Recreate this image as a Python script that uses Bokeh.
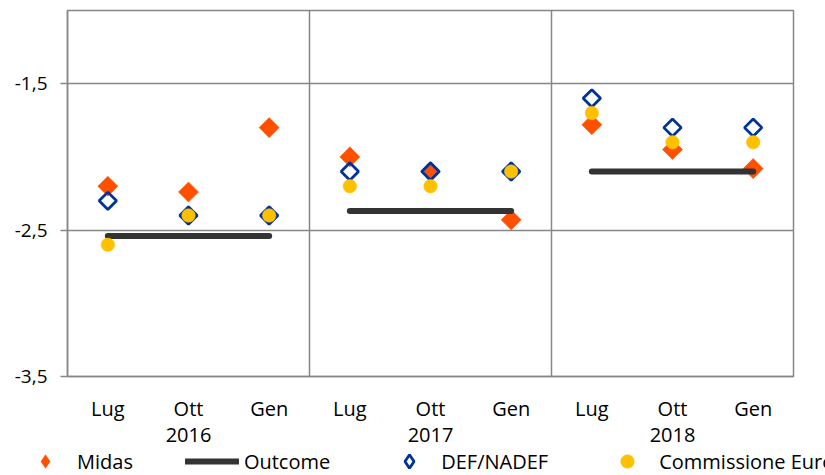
from bokeh.plotting import figure
from bokeh.layouts import column
from bokeh.models import FactorRange, Range1d, FixedTicker, Span, Legend, LegendItem, ColumnDataSource
from bokeh.embed import file_html
from bokeh.resources import INLINE

# ---- data ----
years = ["2016", "2017", "2018"]
months = ["Lug", "Ott", "Gen"]
midas = [-2.2, -2.24, -1.8, -2.0, -2.1, -2.43, -1.78, -1.95, -2.08]
def_nadef = [-2.3, -2.4, -2.4, -2.1, -2.1, -2.1, -1.6, -1.8, -1.8]
commissione = [-2.6, -2.4, -2.4, -2.2, -2.2, -2.1, -1.7, -1.9, -1.9]
outcome = [-2.54, -2.37, -2.1]
y_ticks = [-3.5, -2.5, -1.5]
y_tick_labels = ["-3,5", "-2,5", "-1,5"]
y_limits = (-3.5, -1.0)
series_names = ["Midas", "Outcome", "DEF/NADEF", "Commissione Europea"]

FONT = "Open Sans"
GRID = "#868686"
C_MIDAS = "#FF5000"
C_OUT = "#333333"
C_DEF = "#003399"
C_COM = "#FFC000"

factors = [(y, m) for y in years for m in months]
group_bounds = [len(months) * i for i in range(1, len(years))]

x_range = FactorRange(*factors, range_padding=0, group_padding=0,
                      factor_padding=0, subgroup_padding=0)

p = figure(width=825, height=447, x_range=x_range, y_range=Range1d(*y_limits),
           output_backend="svg", toolbar_location=None,
           min_border_left=67, min_border_top=10, min_border_right=32,
           min_border_bottom=71)
p.frame_align = False

p.background_fill_color = "white"
p.border_fill_color = "white"
p.outline_line_color = GRID
p.outline_line_width = 1.5

# grid
p.xgrid.grid_line_color = None
p.ygrid.ticker = FixedTicker(ticks=y_ticks)
p.ygrid.grid_line_color = GRID
p.ygrid.grid_line_width = 1.5
for b in group_bounds:
    p.add_layout(Span(location=b, dimension="height", line_color=GRID, line_width=1.5))

# y axis
p.yaxis.ticker = FixedTicker(ticks=y_ticks)
p.yaxis.major_label_overrides = {t: l for t, l in zip(y_ticks, y_tick_labels)}
p.yaxis.major_tick_out = 7
p.yaxis.major_tick_in = 0
p.yaxis.minor_tick_line_color = None
p.yaxis.major_tick_line_color = GRID
p.yaxis.major_tick_line_width = 1.5
p.yaxis.axis_line_color = GRID
p.yaxis.axis_line_width = 1.5
p.yaxis.major_label_standoff = 13
p.yaxis.major_label_text_font = FONT
p.yaxis.major_label_text_font_size = "19px"
p.yaxis.major_label_text_color = "black"

# x axis
p.xaxis.major_tick_line_color = None
p.xaxis.major_tick_out = 15
p.xaxis.major_tick_in = 0
p.xaxis.minor_tick_line_color = None
p.xaxis.axis_line_color = GRID
p.xaxis.axis_line_width = 1.5
p.xaxis.major_label_standoff = 3
p.xaxis.major_label_text_font = FONT
p.xaxis.major_label_text_font_size = "20px"
p.xaxis.major_label_text_color = "black"
p.xaxis.group_text_font = FONT
p.xaxis.group_text_font_size = "20px"
p.xaxis.group_text_font_style = "normal"
p.xaxis.group_text_color = "black"
p.xaxis.separator_line_color = None

# series styles
midas_style = dict(fill_color=C_MIDAS, line_color=C_MIDAS, line_width=0.5)
out_style = dict(line_color=C_OUT, line_width=6, line_cap="round")
def_style = dict(fill_color=None, line_color=C_DEF, line_width=2.8)
com_style = dict(marker="circle", size=13.5, fill_color=C_COM, line_color=C_COM,
                 line_width=0.5)
rot = dict(marker="square", angle=45, angle_units="deg")

p.scatter(x=factors, y=midas, size=14.2, **rot, **midas_style)
seg_src = ColumnDataSource(dict(x0=[(y, months[0]) for y in years],
                                x1=[(y, months[-1]) for y in years],
                                y=outcome))
p.segment(x0="x0", y0="y", x1="x1", y1="y", source=seg_src, **out_style)
p.scatter(x=factors, y=def_nadef, size=12.3, **rot, **def_style)
p.scatter(x=factors, y=commissione, **com_style)

# ---- legend strip (separate figure below) ----
# proxy renderers carry the same series data; the strip's ranges (0..1) keep
# them out of view, so only their legend glyphs are drawn.
lf = figure(width=825, height=28, x_range=(0, 1), y_range=(0, 1),
            output_backend="svg", toolbar_location=None,
            min_border=0, min_border_left=0, min_border_right=0,
            min_border_top=0, min_border_bottom=0,
            x_axis_location=None, y_axis_location=None)
lf.frame_align = False
lf.outline_line_color = None
lf.grid.grid_line_color = None
lf.background_fill_color = "white"
lf.border_fill_color = "white"

lr_midas = lf.scatter(x=midas, y=midas, marker="diamond", **midas_style)
lr_out = lf.segment(x0=outcome, y0=outcome, x1=outcome, y1=outcome, **out_style)
lr_def = lf.scatter(x=def_nadef, y=def_nadef, marker="diamond", **def_style)
lr_com = lf.scatter(x=commissione, y=commissione, **com_style)

legend = Legend(items=[LegendItem(label=series_names[0], renderers=[lr_midas]),
                       LegendItem(label=series_names[1], renderers=[lr_out]),
                       LegendItem(label=series_names[2], renderers=[lr_def]),
                       LegendItem(label=series_names[3], renderers=[lr_com])],
                orientation="horizontal", location=(18, -3),
                glyph_width=54, glyph_height=34, label_standoff=5, spacing=52,
                padding=0, margin=0, border_line_color=None,
                background_fill_alpha=0,
                label_text_font=FONT, label_text_font_size="20px",
                label_text_color="black")
lf.add_layout(legend, "center")

open("out.html", "w").write(file_html(column(p, lf, spacing=0), INLINE))
